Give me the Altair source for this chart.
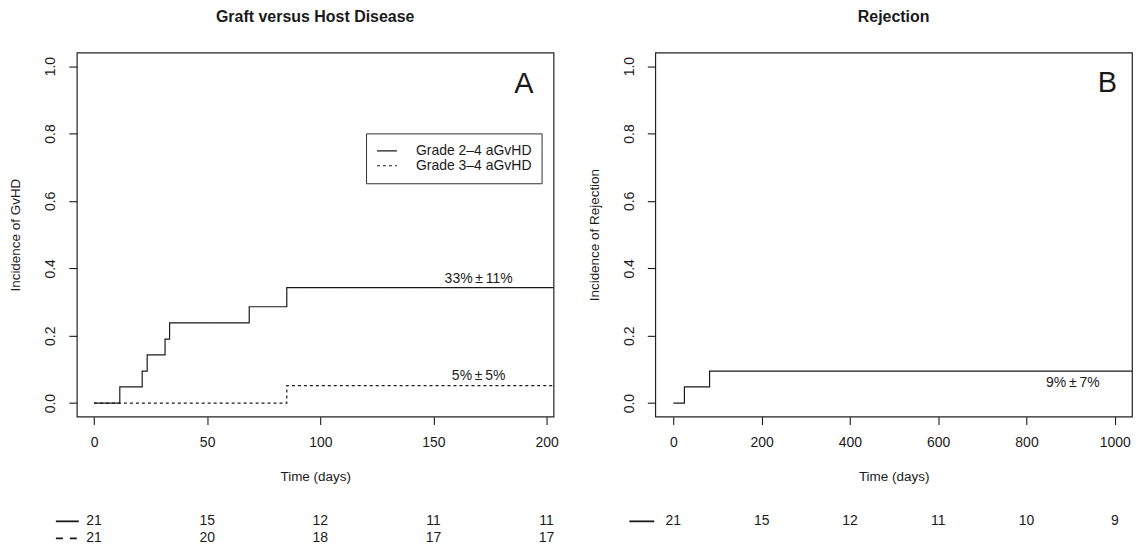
import altair as alt
import pandas as pd

FONT = "Liberation Sans"
INK = "#1a1a1a"

# ---- data ----
# Panel A: cumulative incidence of GvHD (step curves)
gv24_t = [0, 11.4, 21.3, 23.5, 31.4, 33.4, 68.6, 85.2, 210]
gv24_v = [0, 0.048, 0.095, 0.143, 0.190, 0.238, 0.286, 0.343, 0.343]
gv34_t = [0, 85.2, 210]
gv34_v = [0, 0.052, 0.052]
series_names = ["Grade 2\u20134 aGvHD", "Grade 3\u20134 aGvHD"]

# Panel B: cumulative incidence of rejection
rej_t = [0, 25, 82, 1045]
rej_v = [0, 0.048, 0.095, 0.095]

# numbers at risk
gv_risk_t = [0, 50, 100, 150, 200]
gv24_risk = [21, 15, 12, 11, 11]
gv34_risk = [21, 20, 18, 17, 17]
rej_risk_t = [0, 200, 400, 600, 800, 1000]
rej_risk = [21, 15, 12, 11, 10, 9]

# annotations
gv_ann_text = ["33%\u2009\u00b1\u200911%", "5%\u2009\u00b1\u20095%"]
gv_ann_t = [170, 170]
gv_ann_v = [0.367, 0.081]
rej_ann_text = ["9%\u2009\u00b1\u20097%"]
rej_ann_t = [905]
rej_ann_v = [0.060]
panel_letters = ["A", "B"]
letter_t = [190, 983]
letter_v = [0.947, 0.949]

gv_ticks = [0, 50, 100, 150, 200]
rej_ticks = [0, 200, 400, 600, 800, 1000]
y_ticks = [0, 0.2, 0.4, 0.6, 0.8, 1.0]

W, H = 478, 365
TH = 34

# ---- tables ----
gv_df = pd.DataFrame({
    "t": gv24_t + gv34_t,
    "v": gv24_v + gv34_v,
    "series": [series_names[0]] * len(gv24_t) + [series_names[1]] * len(gv34_t),
})
rej_df = pd.DataFrame({"t": rej_t, "v": rej_v})
gv_ann_df = pd.DataFrame({"t": gv_ann_t, "v": gv_ann_v, "label": gv_ann_text})
rej_ann_df = pd.DataFrame({"t": rej_ann_t, "v": rej_ann_v, "label": rej_ann_text})
letA_df = pd.DataFrame({"t": [letter_t[0]], "v": [letter_v[0]], "label": [panel_letters[0]]})
letB_df = pd.DataFrame({"t": [letter_t[1]], "v": [letter_v[1]], "label": [panel_letters[1]]})
gv_risk_df = pd.DataFrame({
    "t": gv_risk_t * 2,
    "n": gv24_risk + gv34_risk,
    "row": ["solid"] * len(gv_risk_t) + ["dashed"] * len(gv_risk_t),
})
rej_risk_df = pd.DataFrame({"t": rej_risk_t, "n": rej_risk, "row": ["solid"] * len(rej_risk_t)})
solid_sym_df = pd.DataFrame({"row": ["solid"]})
dashed_sym_df = pd.DataFrame({"row": ["dashed"]})

# ---- scales / axes ----
xA_scale = alt.Scale(domain=[-7.6, 203.1], nice=False, zero=False)
xB_scale = alt.Scale(domain=[-41, 1039], nice=False, zero=False)
y_scale = alt.Scale(domain=[-0.04, 1.04], nice=False, zero=False)


def x_axis(vals):
    return alt.Axis(values=vals, format="d", title="Time (days)", domain=False, grid=False,
                    tickSize=8, tickColor=INK, tickWidth=1.1, labelFontSize=14,
                    labelColor=INK, labelPadding=11, labelFont=FONT,
                    titleFont=FONT, titleFontSize=13.5, titleFontWeight="normal",
                    titleColor=INK, titlePadding=20, labelFlush=False)


def y_axis(title):
    return alt.Axis(values=y_ticks, format=".1f", title=title, domain=False, grid=False,
                    tickSize=8, tickColor=INK, tickWidth=1.1, labelFontSize=14,
                    labelColor=INK, labelPadding=14, labelAngle=270,
                    labelAlign="center", labelBaseline="alphabetic", labelFont=FONT,
                    titleFont=FONT, titleFontSize=13.5, titleFontWeight="normal",
                    titleColor=INK, titlePadding=21, labelFlush=False)


def ptitle(text):
    return alt.TitleParams(text, fontSize=16, fontWeight="bold", font=FONT, color=INK,
                           anchor="middle", offset=15, baseline="alphabetic")


box = alt.ViewBackground(stroke="#222222", strokeWidth=1.2, fill="white")

# ---- Panel A ----
linesA = alt.Chart(gv_df).mark_line(interpolate="step-after", clip=True, color=INK,
                                    strokeWidth=1.2).encode(
    x=alt.X("t:Q", scale=xA_scale, axis=x_axis(gv_ticks)),
    y=alt.Y("v:Q", scale=y_scale, axis=y_axis("Incidence of GvHD")),
    strokeDash=alt.StrokeDash(
        "series:N",
        scale=alt.Scale(domain=series_names, range=[[1, 0], [3, 3]]),
        legend=alt.Legend(title=None, orient="none", legendX=290, legendY=81,
                          symbolType="stroke", symbolSize=400, symbolStrokeWidth=1.1,
                          symbolStrokeColor=INK, labelFontSize=14, labelFont=FONT,
                          labelColor=INK, labelOffset=18, padding=10,
                          strokeColor="#333333", fillColor="white", clipHeight=15,
                          rowPadding=0),
    ),
)
annA = alt.Chart(gv_ann_df).mark_text(fontSize=14, font=FONT, color=INK).encode(
    x=alt.X("t:Q", scale=xA_scale), y=alt.Y("v:Q", scale=y_scale), text="label:N")
letA = alt.Chart(letA_df).mark_text(fontSize=29, font=FONT, color=INK).encode(
    x=alt.X("t:Q", scale=xA_scale), y=alt.Y("v:Q", scale=y_scale), text="label:N")
panelA = alt.layer(linesA, annA, letA).properties(
    width=W, height=H, title=ptitle("Graft versus Host Disease"), view=box)

# ---- Panel B ----
linesB = alt.Chart(rej_df).mark_line(interpolate="step-after", clip=True, color=INK,
                                     strokeWidth=1.2).encode(
    x=alt.X("t:Q", scale=xB_scale, axis=x_axis(rej_ticks)),
    y=alt.Y("v:Q", scale=y_scale, axis=y_axis("Incidence of Rejection")),
)
annB = alt.Chart(rej_ann_df).mark_text(fontSize=14, font=FONT, color=INK).encode(
    x=alt.X("t:Q", scale=xB_scale), y=alt.Y("v:Q", scale=y_scale), text="label:N")
letB = alt.Chart(letB_df).mark_text(fontSize=29, font=FONT, color=INK).encode(
    x=alt.X("t:Q", scale=xB_scale), y=alt.Y("v:Q", scale=y_scale), text="label:N")
panelB = alt.layer(linesB, annB, letB).properties(
    width=W, height=H, title=ptitle("Rejection"), view=box)

# ---- numbers at risk ----
row_scale = alt.Scale(domain=["solid", "dashed"])

riskA_txt = alt.Chart(gv_risk_df).mark_text(fontSize=14, font=FONT, color=INK).encode(
    x=alt.X("t:Q", scale=xA_scale, axis=None),
    y=alt.Y("row:N", scale=row_scale, axis=None),
    text="n:Q")
riskA_solid = alt.Chart(solid_sym_df).mark_rule(color=INK, strokeWidth=1.8).encode(
    x=alt.value(-21), x2=alt.value(2),
    y=alt.Y("row:N", scale=row_scale, axis=None))
riskA_dashed = alt.Chart(dashed_sym_df).mark_rule(color=INK, strokeWidth=1.8,
                                                  strokeDash=[7, 7]).encode(
    x=alt.value(-21), x2=alt.value(2),
    y=alt.Y("row:N", scale=row_scale, axis=None))
riskA = alt.layer(riskA_solid, riskA_dashed, riskA_txt).properties(
    width=W, height=TH, view=alt.ViewBackground(strokeWidth=0))

riskB_txt = alt.Chart(rej_risk_df).mark_text(fontSize=14, font=FONT, color=INK).encode(
    x=alt.X("t:Q", scale=xB_scale, axis=None),
    y=alt.Y("row:N", scale=row_scale, axis=None),
    text="n:Q")
riskB_solid = alt.Chart(solid_sym_df).mark_rule(color=INK, strokeWidth=1.8).encode(
    x=alt.value(-26), x2=alt.value(-1),
    y=alt.Y("row:N", scale=row_scale, axis=None))
riskB = alt.layer(riskB_solid, riskB_txt).properties(
    width=W, height=TH, view=alt.ViewBackground(strokeWidth=0))

chart = alt.concat(panelA, panelB, riskA, riskB, columns=2,
                   spacing={"row": 96.5, "column": 102}, bounds="flush").properties(
    padding={"left": 0, "top": -1, "right": 0, "bottom": 0},
    background="white",
).configure_view(strokeWidth=0).configure(font=FONT)

chart.save("out.html", embed_options={"renderer": "svg", "actions": False})
